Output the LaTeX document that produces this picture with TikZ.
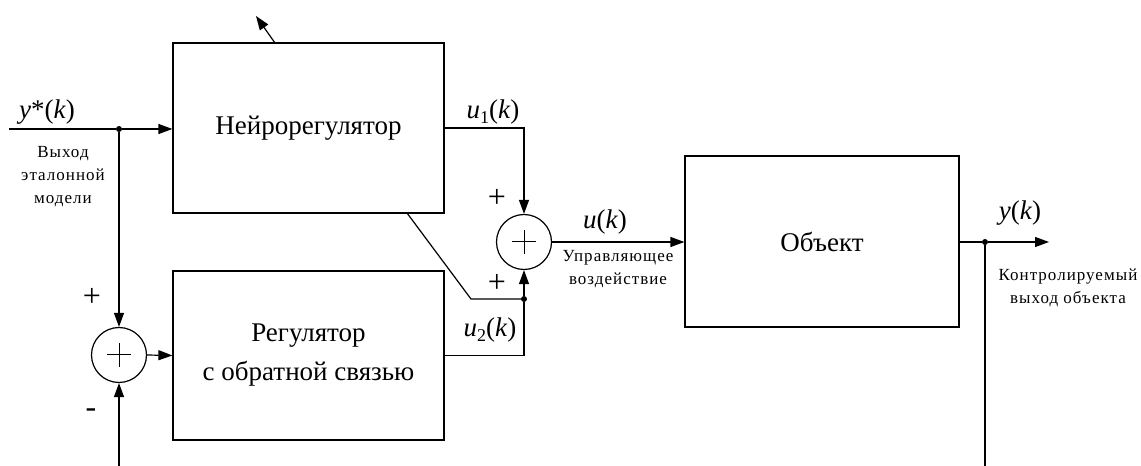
\documentclass[tikz,border=0pt]{standalone}
\usepackage{fontspec}
\setmainfont{Liberation Serif}
\newfontfamily\lblfont[LetterSpace=6]{Liberation Serif}
\usepackage{tikz}
\usetikzlibrary{arrows.meta}
\usetikzlibrary{positioning}
\newcommand{\bigtxt}{\fontsize{27}{39}\selectfont}
\newcommand{\lbltxt}{\lblfont\fontsize{17}{23}\selectfont}
\newcommand{\sigtxt}{\fontsize{27}{27}\selectfont}
\newcommand{\subtxt}[1]{\raisebox{-5pt}{\fontsize{18}{18}\selectfont #1}}

\tikzset{
  blk/.style={draw, line width=1.2pt, minimum width=271pt, minimum height=170pt, align=center, font=\bigtxt},
  sumc/.style={draw, circle, line width=1.2pt, minimum size=55pt, inner sep=0pt,
    path picture={\draw[line width=1pt] ([xshift=-12pt]path picture bounding box.center) -- ([xshift=12pt]path picture bounding box.center)
      ([yshift=-12pt]path picture bounding box.center) -- ([yshift=12pt]path picture bounding box.center);}},
  sig/.style={line width=1.2pt, -{Triangle[length=14pt,width=10pt]}},
  wire/.style={line width=1.2pt},
  jdot/.style={circle, fill, inner sep=0pt, minimum size=6pt},
  lbl/.style={align=center, font=\lbltxt},
  sgn/.style={font=\fontsize{32}{32}\selectfont}
}

\begin{document}
\begin{tikzpicture}[x=1pt,y=1pt]
\useasboundingbox (0,0) rectangle (1141,466);

\node[blk] (neuro) at (308.5,338) {Нейрорегулятор};
\node[blk, minimum height=169pt] (reg) at (308.5,110.5) {Регулятор\\с обратной связью};
\node[blk, minimum width=274pt, minimum height=171pt] (obj) at (822,224.5) {Объект};
\node[sumc] (sum1) at (119,111) {};
\node[sumc] (sum2) at (524,224) {};

\coordinate (in) at (9,337);
\node[jdot] (j1) at (119,337) {};
\node[jdot] (j2) at (524,167) {};
\node[jdot] (j3) at (985,224) {};
\coordinate (out) at (1049,224);
\coordinate (fb1) at (119,0);
\coordinate (fb2) at (985,0);
\coordinate (tune) at (275,423);
\coordinate (tunetip) at (256,450);
\coordinate (d1) at (407,253);
\coordinate (d2) at (471,167);

\node at (47,354) {\sigtxt\textit{y}*(\textit{k})};
\node[lbl] at (63,289) {Выход\\эталонной\\модели};
\node at (493,354) {\sigtxt\textit{u}\subtxt{1}(\textit{k})};
\node at (490,136) {\sigtxt\textit{u}\subtxt{2}(\textit{k})};
\node at (605,244) {\sigtxt\textit{u}(\textit{k})};
\node[lbl] at (618,197) {Управляющее\\воздействие};
\node at (1020,253) {\sigtxt\textit{y}(\textit{k})};
\node[lbl] at (1068,178) {Контролируемый\\выход объекта};
\node[sgn] at (92,169) {+};
\node[sgn] at (91,53) {-};
\node[sgn] at (497,268) {+};
\node[sgn] at (497,183) {+};

\draw[wire] (in) -- (j1);
\draw[sig] (j1) -- (neuro.west |- j1);
\draw[sig] (j1) -- (sum1.north);
\draw[sig] (fb1) -- (sum1.south);
\draw[sig] (sum1.east) -- (reg.west);
\draw[sig] (neuro.east |- 0,338) -| (sum2.north);
\draw[wire] (reg.east) -| (j2);
\draw[wire] (d1) -- (d2) -- (j2);
\draw[sig] (j2) -- (sum2.south);
\draw[sig] (sum2.east) -- (obj.west |- sum2);
\draw[wire] (obj.east |- j3) -- (j3);
\draw[sig] (j3) -- (out);
\draw[wire] (j3) -- (fb2);
\draw[sig] (tune) -- (tunetip);
\end{tikzpicture}
\end{document}
